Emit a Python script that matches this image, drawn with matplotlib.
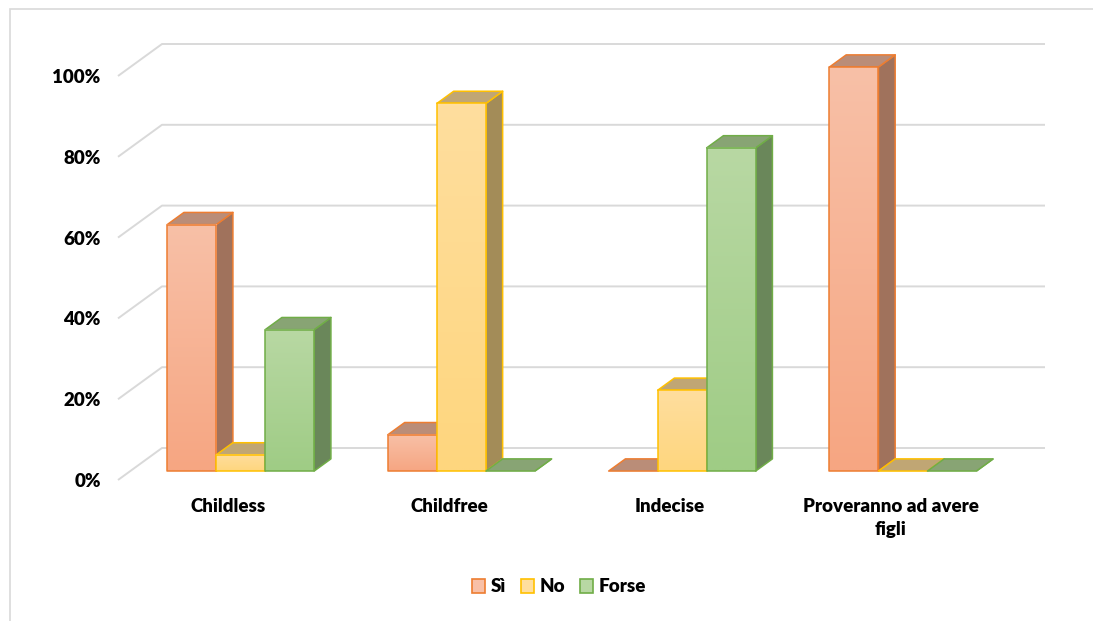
import numpy as np
import matplotlib
matplotlib.use("Agg")
import matplotlib.pyplot as plt
from matplotlib.patches import Polygon, Rectangle, Patch
from matplotlib.colors import to_rgb

# ---- data ----
categories = ["Childless", "Childfree", "Indecise", "Proveranno ad avere\nfigli"]
series_names = ["Sì", "No", "Forse"]
si = [0.61, 0.09, 0.00, 1.00]
no = [0.04, 0.91, 0.20, 0.00]
forse = [0.35, 0.00, 0.80, 0.00]
y_ticks = [0.0, 0.2, 0.4, 0.6, 0.8, 1.0]
y_tick_labels = ["0%", "20%", "40%", "60%", "80%", "100%"]

series_values = [si, no, forse]
# style per series: (gradient top, gradient bottom, edge, side, top face)
styles = [
    ("#F8C0A7", "#F6A682", "#ED7D31", "#A0725C", "#BA8D78"),
    ("#FFDE9E", "#FED67E", "#FFC000", "#A38C58", "#C0A674"),
    ("#B8D8A3", "#9FCC85", "#70AD47", "#6A875A", "#88A474"),
]

plt.rcParams["font.family"] = ["Lato", "DejaVu Sans"]
FW = "heavy"
FS = 13.5

W, H = 1093, 621
fig = plt.figure(figsize=(W / 100, H / 100), dpi=100)
fig.patch.set_facecolor("white")

# outer chart border
fig.add_artist(Rectangle((9.5 / W, -0.5), 2.0, 1 - 8.5 / H + 0.5,
                         transform=fig.transFigure, fill=False,
                         edgecolor="#D9D9D9", linewidth=1.2))

ax_left, ax_right, ax_bottom, ax_top = 118, 1001, 480, 76
ax = fig.add_axes([ax_left / W, 1 - ax_bottom / H,
                   (ax_right - ax_left) / W, (ax_bottom - ax_top) / H])
ncat = len(categories)
ax.set_xlim(0, ncat)
ax.set_ylim(0, 1)
for s in ax.spines.values():
    s.set_visible(False)
ax.set_facecolor("none")

cat_px = (ax_right - ax_left) / ncat
DX = 44 / cat_px          # full depth offset, category units
DY = 32 / (ax_bottom - ax_top)  # full depth offset, value units
f1, f2 = 0.28, 0.66       # bar front/back depth fractions
bw = 49 / cat_px          # bar width

# gridlines (floor-to-wall style)
for v in y_ticks:
    ax.plot([0, DX, ncat + DX], [v, v + DY, v + DY], color="#D9D9D9",
            lw=1.4, zorder=1, clip_on=False, solid_capstyle="butt")

ox1, oy1 = f1 * DX, f1 * DY
ox2, oy2 = f2 * DX, f2 * DY

z = 2
for i in range(ncat):
    for j, vals in enumerate(series_values):
        h = vals[i]
        gtop, gbot, edge, side, topc = styles[j]
        x0 = i + 0.5 - 1.5 * bw + j * bw
        x1 = x0 + bw
        # side face
        side_poly = Polygon([(x1 + ox1, oy1), (x1 + ox2, oy2),
                             (x1 + ox2, oy2 + h), (x1 + ox1, oy1 + h)],
                            closed=True, facecolor=side, edgecolor=edge,
                            lw=1.1, zorder=z, clip_on=False, joinstyle="round")
        ax.add_patch(side_poly)
        # top face
        top_poly = Polygon([(x0 + ox1, oy1 + h), (x1 + ox1, oy1 + h),
                            (x1 + ox2, oy2 + h), (x0 + ox2, oy2 + h)],
                           closed=True, facecolor=topc, edgecolor=edge,
                           lw=1.1, zorder=z + 0.1, clip_on=False, joinstyle="round")
        ax.add_patch(top_poly)
        # front face with vertical gradient
        if h > 0:
            c1 = np.array(to_rgb(gtop))
            c2 = np.array(to_rgb(gbot))
            t = np.linspace(0, 1, 64)[:, None]
            grad = (c1 * (1 - t) + c2 * t)[:, None, :]
            ax.imshow(grad, extent=(x0 + ox1, x1 + ox1, oy1, oy1 + h),
                      origin="upper", aspect="auto", zorder=z + 0.2,
                      interpolation="bilinear", clip_on=False)
            ax.add_patch(Rectangle((x0 + ox1, oy1), bw, h, fill=False,
                                   edgecolor=edge, lw=1.1, zorder=z + 0.3,
                                   clip_on=False, joinstyle="round"))
        z += 1

ax.set_xlim(0, ncat)
ax.set_ylim(0, 1)

ax.set_yticks(y_ticks)
ax.set_yticklabels(y_tick_labels, fontsize=FS, fontweight=FW)
ax.set_xticks([i + 0.5 for i in range(ncat)])
ax.set_xticklabels(categories, fontsize=FS, fontweight=FW,
                   linespacing=1.4, va="top")
ax.tick_params(axis="y", length=0, pad=12.5)
ax.tick_params(axis="x", length=0, pad=13)

# legend
handles = [Patch(facecolor=styles[j][0], edgecolor=styles[j][2], lw=1.2,
                 label=series_names[j]) for j in range(3)]
fig.legend(handles=handles, loc="center", ncol=3, frameon=False,
           bbox_to_anchor=(559 / W, 1 - 587 / H),
           handlelength=0.7, handleheight=0.7, handletextpad=0.3,
           columnspacing=0.8, prop={"weight": FW, "size": FS})

fig.savefig("out.png", dpi=100, facecolor="white")
